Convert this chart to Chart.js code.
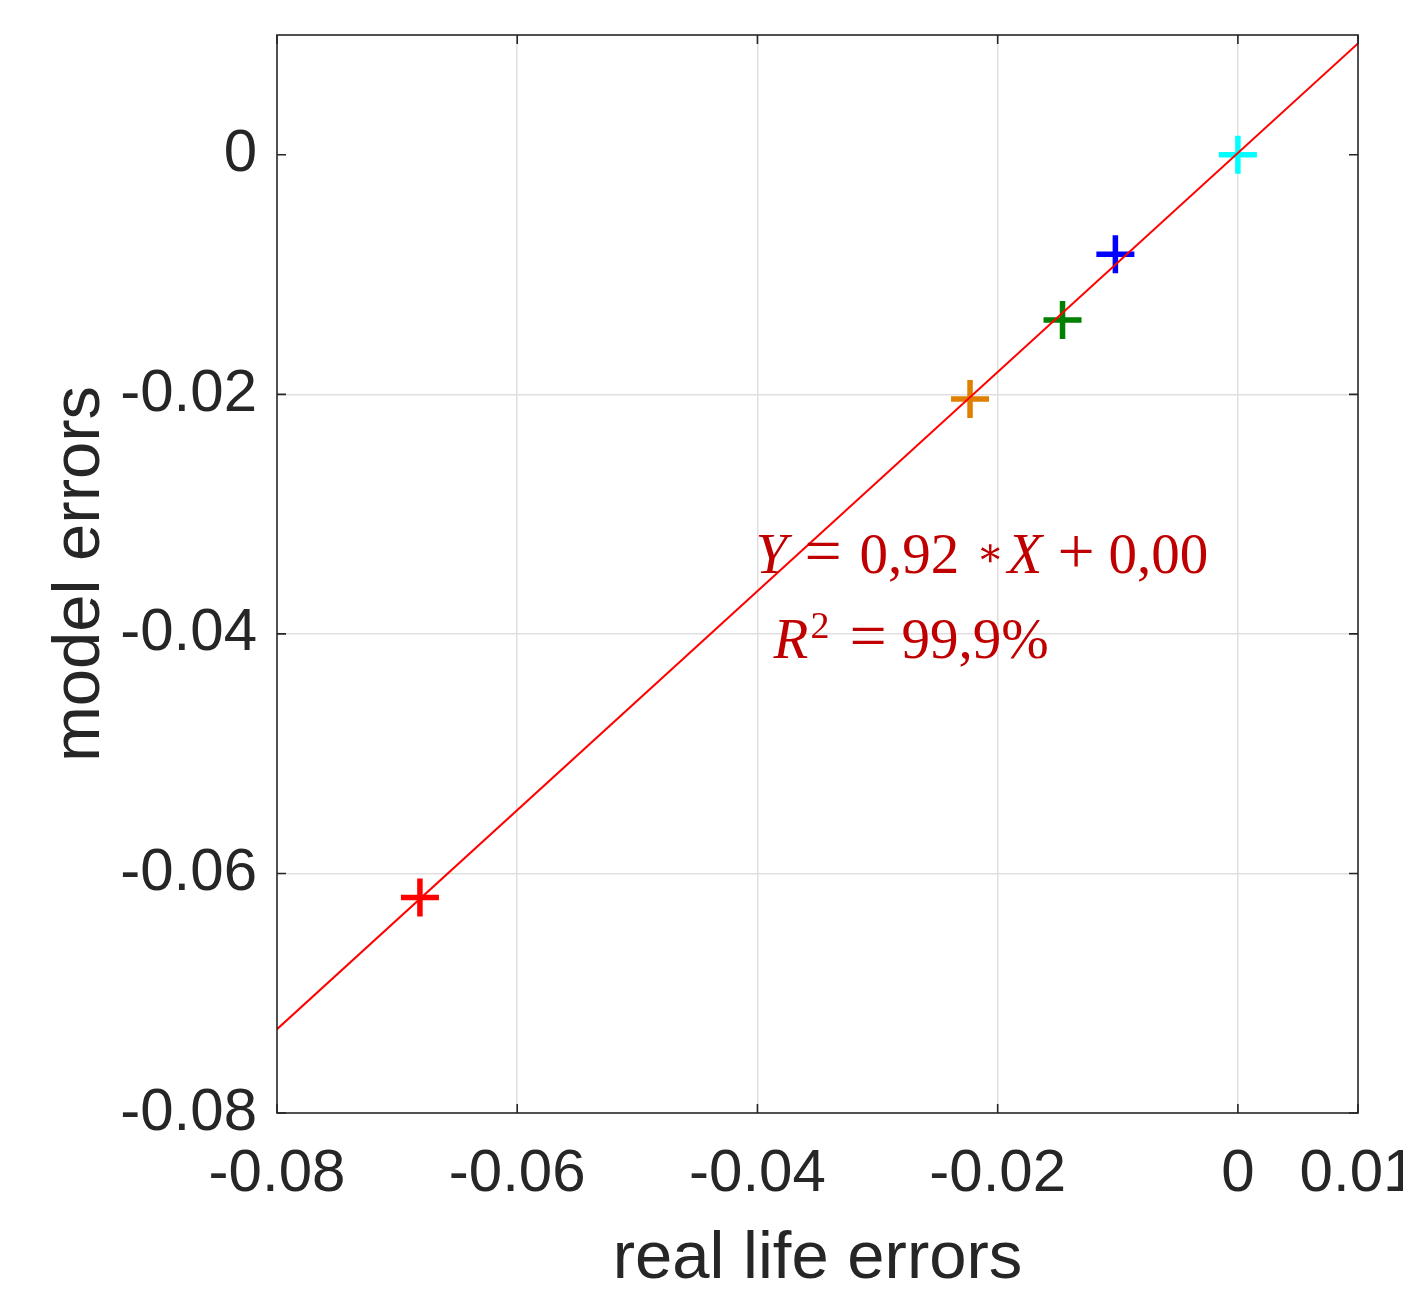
<!DOCTYPE html>
<html>
<head>
<meta charset="utf-8">
<title>model errors vs real life errors</title>
<script src="https://cdn.jsdelivr.net/npm/chart.js@4.4.1/dist/chart.umd.min.js"></script>
<style>
  html, body { margin: 0; padding: 0; background: #fff; }
  #wrap { width: 1403px; height: 1292px; }
</style>
</head>
<body>
<div id="wrap"><canvas id="c" width="1403" height="1292"></canvas></div>
<script>
/* ---- values ---- */
var realErrors  = [-0.0681, -0.0223, -0.0146, -0.0102, 0.0000];
var modelErrors = [-0.0620, -0.0204, -0.0138, -0.0083, 0.0000];
var pointColors = ["#ff0000", "#e08000", "#008000", "#0000ff", "#00ffff"];

/* regression line end points (Y = 0,92 * X + 0,00) */
var fitX = [-0.08, 0.01];
var fitY = [-0.0730, 0.0093];

var xTicks = [-0.08, -0.06, -0.04, -0.02, 0, 0.01];
var yTicks = [-0.08, -0.06, -0.04, -0.02, 0];

var eqText1 = ["Y", "=", "0,92", "\u2217", "X", "+", "0,00"];
var eqText2 = ["R", "2", "=", "99,9%"];

/* ---- style ---- */
var INK = "#262626";
var GRID = "#dfdfdf";
var SANS = '"Liberation Sans", Arial, Helvetica, sans-serif';
var SERIF = '"Liberation Serif", "DejaVu Serif", "Times New Roman", serif';
var EQ_RED = "#c00000";

var fmt = function (v) { return String(Number(v.toFixed(3))); };

/* box round the axes with inward ticks on all four sides */
var frame = {
  id: "frame",
  afterDatasetsDraw: function (chart) {
    var a = chart.chartArea, ctx = chart.ctx;
    var xs = chart.scales.x, ys = chart.scales.y;
    var tl = 9;
    ctx.save();
    ctx.strokeStyle = INK;
    ctx.lineWidth = 1.6;
    ctx.strokeRect(a.left, a.top, a.right - a.left, a.bottom - a.top);
    ctx.beginPath();
    xTicks.forEach(function (v) {
      var px = xs.getPixelForValue(v);
      ctx.moveTo(px, a.bottom); ctx.lineTo(px, a.bottom - tl);
      ctx.moveTo(px, a.top); ctx.lineTo(px, a.top + tl);
    });
    yTicks.forEach(function (v) {
      var py = ys.getPixelForValue(v);
      ctx.moveTo(a.left, py); ctx.lineTo(a.left + tl, py);
      ctx.moveTo(a.right, py); ctx.lineTo(a.right - tl, py);
    });
    ctx.stroke();
    ctx.restore();
  }
};

/* regression equation, anchored in data units */
var eqAnchor = { x: -0.0400, y: -0.0349 };
var equation = {
  id: "equation",
  afterDraw: function (chart) {
    var ctx = chart.ctx;
    var x0 = chart.scales.x.getPixelForValue(eqAnchor.x);
    var y0 = chart.scales.y.getPixelForValue(eqAnchor.y);
    var reg = "57px " + SERIF, ita = "italic 57px " + SERIF, op = "66px " + SERIF;
    ctx.save();
    ctx.fillStyle = EQ_RED;
    ctx.textAlign = "left";
    ctx.textBaseline = "alphabetic";
    var put = function (t, f, dx, dy) { ctx.font = f; ctx.fillText(t, x0 + dx, y0 + dy); };
    // line 1
    put(eqText1[0], ita, -2, 0);
    put(eqText1[1], op, 47, 0);
    put(eqText1[2], reg, 102, 0);
    put(eqText1[3], "40px " + SERIF, 219, -7);
    put(eqText1[4], ita, 250, 0);
    put(eqText1[5], op, 300, 0);
    put(eqText1[6], reg, 351, 0);
    // line 2
    put(eqText2[0], ita, 16, 85);
    put(eqText2[1], "38px " + SERIF, 53, 65);
    put(eqText2[2], op, 92, 85);
    put(eqText2[3], reg, 144, 85);
    ctx.restore();
  }
};

var edgeGrid = function (ticks) {
  return function (c) {
    return (c.index === 0 || c.index === ticks.length - 1) ? "rgba(0,0,0,0)" : GRID;
  };
};

new Chart(document.getElementById("c").getContext("2d"), {
  type: "scatter",
  data: {
    datasets: [
      {
        type: "line",
        data: fitX.map(function (x, i) { return { x: x, y: fitY[i] }; }),
        borderColor: "#ff0000",
        borderWidth: 2,
        pointRadius: 0,
        fill: false,
        tension: 0,
        showLine: true
      },
      {
        data: realErrors.map(function (x, i) { return { x: x, y: modelErrors[i] }; }),
        pointStyle: "cross",
        pointRadius: 19,
        pointBorderWidth: 5.5,
        pointBorderColor: pointColors,
        pointBackgroundColor: pointColors
      }
    ]
  },
  options: {
    responsive: false,
    animation: false,
    events: [],
    devicePixelRatio: 1,
    layout: { padding: { top: 35, right: 45, left: 0, bottom: 0 } },
    plugins: { legend: { display: false }, tooltip: { enabled: false } },
    scales: {
      x: {
        type: "linear",
        min: -0.08,
        max: 0.01,
        afterBuildTicks: function (s) { s.ticks = xTicks.map(function (v) { return { value: v }; }); },
        afterFit: function (s) { s.height = 179; s.paddingLeft = 0; s.paddingRight = 0; },
        ticks: {
          callback: fmt, autoSkip: false, maxRotation: 0, padding: 25,
          color: INK, font: { family: SANS, size: 60 }
        },
        grid: { color: edgeGrid(xTicks), lineWidth: 1.5, drawTicks: false },
        border: { display: false },
        title: {
          display: true, text: "real life errors", color: INK,
          font: { family: SANS, size: 67, lineHeight: 0.9 },
          padding: { top: 0, bottom: 2 }
        }
      },
      y: {
        type: "linear",
        min: -0.08,
        max: 0.01,
        afterBuildTicks: function (s) { s.ticks = yTicks.map(function (v) { return { value: v }; }); },
        afterFit: function (s) { s.width = 277; s.paddingTop = 0; s.paddingBottom = 0; },
        ticks: {
          callback: fmt, autoSkip: false, padding: 20,
          color: INK, font: { family: SANS, size: 60 }
        },
        grid: { color: edgeGrid(yTicks), lineWidth: 1.5, drawTicks: false },
        border: { display: false },
        title: {
          display: true, text: "model errors", color: INK,
          font: { family: SANS, size: 67, lineHeight: 0.9 },
          padding: { top: 50, bottom: 0 }
        }
      }
    }
  },
  plugins: [frame, equation]
});
</script>
</body>
</html>
